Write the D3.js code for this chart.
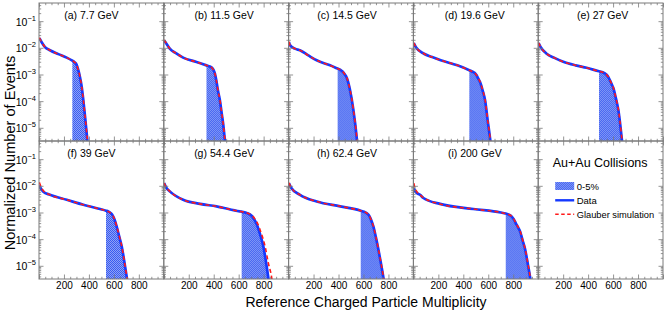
<!DOCTYPE html>
<html><head><meta charset="utf-8">
<script src="https://cdn.jsdelivr.net/npm/d3@7/dist/d3.min.js"></script>
<style>
body{margin:0;background:#fff}
svg{display:block}
text{font-family:"Liberation Sans",Arial,Helvetica,sans-serif}
</style>
</head><body><svg id="c" width="670" height="313"></svg>
<script>
// ---------------- data ----------------
const panelLabels = ["(a) 7.7 GeV","(b) 11.5 GeV","(c) 14.5 GeV","(d) 19.6 GeV","(e) 27 GeV",
                     "(f) 39 GeV","(g) 54.4 GeV","(h) 62.4 GeV","(i) 200 GeV"];
const cutoffs = [267, 342, 393, 448, 487, 537, 624, 578, 740];   // 0-5% lower edge
const multTicks = [200, 400, 600, 800];
const logTickExps = [-1, -2, -3, -4, -5];

const data77 = [[3,0.023],[20,0.0165],[48,0.0107],[88,0.0081],[155,0.0058],[222,0.0043],[267,0.0033],[285,0.0029],[300,0.0024],[315,0.00145],[328,0.00081],[342,0.00035],[355,0.00011],[369,0.000026],[387,0.0000035],[395,0.0000015]];
const glauber77 = [[3,0.024],[20,0.0168],[48,0.0108],[88,0.0081],[155,0.0058],[222,0.0043],[267,0.0033],[285,0.0029],[300,0.0024],[315,0.00147],[328,0.00083],[342,0.00036],[355,0.000115],[369,0.000028],[387,0.0000038],[396,0.0000015]];

const data115 = [[3,0.019],[20,0.0145],[48,0.0093],[100,0.0062],[155,0.0043],[262,0.00295],[342,0.0022],[369,0.002],[385,0.0018],[398,0.0015],[409,0.0011],[420,0.00062],[433,0.00026],[449,0.00011],[462,0.00004],[475,0.0000148],[489,0.0000035],[497,0.0000015]];
const glauber115 = [[3,0.02],[20,0.0147],[48,0.0094],[100,0.0062],[155,0.0043],[262,0.00295],[342,0.0022],[369,0.002],[385,0.0018],[398,0.0015],[409,0.00112],[420,0.00064],[433,0.00027],[449,0.000115],[462,0.000042],[475,0.0000155],[489,0.0000037],[498,0.0000015]];

const data145 = [[3,0.0166],[11,0.0126],[51,0.0093],[91,0.0081],[158,0.0052],[225,0.0034],[332,0.0022],[393,0.00166],[415,0.0015],[432,0.0013],[448,0.00105],[466,0.00075],[492,0.00026],[519,0.000047],[546,0.0000041],[552,0.000002]];
const glauber145 = [[3,0.017],[11,0.0128],[51,0.0093],[91,0.0081],[158,0.0052],[225,0.0034],[332,0.0022],[393,0.00166],[415,0.0015],[432,0.0013],[448,0.00106],[466,0.00077],[492,0.00027],[519,0.00005],[546,0.0000045],[553,0.000002]];

const data196 = [[3,0.015],[20,0.0105],[85,0.006],[150,0.0045],[219,0.0034],[352,0.0022],[448,0.00145],[470,0.0013],[490,0.00115],[505,0.00095],[520,0.0007],[534,0.00052],[555,0.00025],[574,0.00011],[595,0.000019],[614,0.0000041],[622,0.000002]];
const glauber196 = [[3,0.0155],[20,0.0107],[85,0.006],[150,0.0045],[219,0.0034],[352,0.0022],[448,0.00145],[470,0.0013],[490,0.00115],[505,0.00096],[520,0.00071],[534,0.00053],[555,0.00026],[574,0.000115],[595,0.00002],[614,0.0000045],[623,0.000002]];

const data27 = [[3,0.015],[20,0.0105],[68,0.006],[130,0.0042],[201,0.003],[300,0.0022],[388,0.00178],[487,0.00132],[510,0.00124],[530,0.00113],[548,0.00098],[562,0.0008],[575,0.0006],[590,0.00042],[602,0.00031],[622,0.00013],[642,0.000047],[656,0.000015],[669,0.0000041],[677,0.000002]];
const glauber27 = [[3,0.0155],[20,0.0107],[68,0.006],[130,0.0042],[201,0.003],[300,0.0022],[388,0.00178],[487,0.00132],[510,0.00124],[530,0.00113],[548,0.00099],[562,0.00081],[575,0.00061],[590,0.00043],[602,0.00032],[622,0.000135],[642,0.00005],[656,0.000016],[669,0.0000045],[678,0.000002]];

const data39 = [[3,0.0105],[15,0.0078],[35,0.006],[88,0.0046],[222,0.003],[355,0.00195],[489,0.00135],[537,0.00117],[560,0.00106],[578,0.00092],[592,0.00075],[605,0.00055],[622,0.0003],[642,0.00013],[662,0.000055],[682,0.000016],[703,0.0000037],[712,0.000002]];
const glauber39 = [[3,0.0135],[15,0.0095],[35,0.0066],[88,0.0046],[222,0.003],[355,0.00195],[489,0.00135],[537,0.00117],[560,0.00106],[578,0.00092],[592,0.00076],[605,0.00056],[622,0.00031],[642,0.000135],[662,0.000057],[682,0.000017],[703,0.000004],[713,0.000002]];

const data544 = [[3,0.0126],[20,0.0085],[48,0.0062],[155,0.003],[290,0.0021],[422,0.0017],[608,0.0011],[624,0.00107],[660,0.00098],[690,0.00085],[710,0.0007],[728,0.00052],[744,0.00037],[770,0.00016],[797,0.000055],[817,0.000016],[837,0.0000037],[845,0.000002]];
const glauber544 = [[3,0.0128],[20,0.0086],[48,0.0062],[155,0.003],[290,0.0021],[422,0.0017],[608,0.0011],[624,0.00107],[660,0.00099],[690,0.00087],[712,0.00073],[732,0.00055],[750,0.0004],[780,0.00017],[811,0.000055],[837,0.000013],[864,0.0000037],[872,0.000002]];

const data624 = [[3,0.0126],[20,0.0085],[91,0.0046],[225,0.0026],[413,0.0017],[578,0.00117],[605,0.00106],[625,0.00095],[642,0.0008],[656,0.0006],[668,0.00043],[679,0.0003],[699,0.00012],[719,0.000042],[739,0.000013],[759,0.0000037],[767,0.000002]];
const glauber624 = [[3,0.013],[20,0.0087],[91,0.0046],[225,0.0026],[413,0.0017],[578,0.00117],[605,0.00106],[625,0.00096],[642,0.00081],[656,0.00061],[668,0.00044],[679,0.00031],[699,0.000125],[719,0.000044],[739,0.000014],[759,0.000004],[768,0.000002]];

const data200 = [[3,0.0081],[20,0.0058],[53,0.0046],[80,0.0035],[213,0.0021],[480,0.00135],[700,0.001],[740,0.00091],[765,0.00083],[788,0.0007],[805,0.00055],[820,0.0004],[838,0.00028],[854,0.0002],[875,0.00009],[895,0.000042],[915,0.000013],[935,0.0000037],[943,0.000002]];
const glauber200 = [[3,0.0126],[12,0.0085],[30,0.0058],[53,0.0046],[80,0.0036],[213,0.0021],[480,0.00135],[700,0.001],[740,0.00091],[765,0.00083],[788,0.00071],[805,0.00056],[820,0.00041],[838,0.00029],[854,0.00021],[875,0.000095],[895,0.000044],[915,0.000014],[935,0.000004],[944,0.000002]];

const dataSeries = [data77,data115,data145,data196,data27,data39,data544,data624,data200];
const glauberSeries = [glauber77,glauber115,glauber145,glauber196,glauber27,glauber39,glauber544,glauber624,glauber200];

// ---------------- layout ----------------
const L = 39, T = 3, PW = 124.8, PH = 138;
const labelDx = [-10, -2, -4, -1, 2];
const BLUE = "#1438ff", RED = "#ff1a1a", FRAME = "#7a7a7a";
const svg = d3.select("#c");
const x = d3.scaleLinear().domain([0, 1000]).range([0, PW]);
const y = d3.scaleLog().domain([3.2e-6, 0.48]).range([PH, 0]);

const defs = svg.append("defs");
const pat = defs.append("pattern").attr("id","hatch").attr("width",2).attr("height",2).attr("patternUnits","userSpaceOnUse");
pat.append("rect").attr("width",2).attr("height",2).attr("fill","#8ea2f7");
pat.append("rect").attr("width",1).attr("height",1).attr("fill","#3a5cf0");
pat.append("rect").attr("x",1).attr("y",1).attr("width",1).attr("height",1).attr("fill","#3a5cf0");
defs.append("clipPath").attr("id","pclip").append("rect").attr("width",PW).attr("height",PH);

const xMajor = d3.range(0, 1001, 200);
const xMinor = d3.range(0, 1001, 50).filter(v => v % 200 !== 0);
const yMajor = d3.range(-6, 1).map(e => Math.pow(10, e)).filter(v => v >= 3.2e-6 && v <= 0.48);
const yMinor = [];
for (let e = -6; e <= 0; e++) for (let k = 2; k <= 9; k++) { const v = k * Math.pow(10, e); if (v >= 3.2e-6 && v <= 0.48) yMinor.push(v); }

const line = d3.line().x(d => x(d[0])).y(d => y(d[1])).curve(d3.curveMonotoneX);
const area = d3.area().x(d => x(d[0])).y0(PH).y1(d => y(d[1])).curve(d3.curveMonotoneX);

function styleAxis(g) {
  g.select(".domain").remove();
  g.selectAll(".tick line").attr("stroke", FRAME).attr("stroke-width", 0.8);
  g.selectAll(".tick text").attr("fill", "#000").style("font-size", "10px")
    .style("font-family", '"Liberation Sans",Arial,sans-serif');
}

for (let i = 0; i < 10; i++) {
  const col = i % 5, row = Math.floor(i / 5);
  const g = svg.append("g").attr("transform", `translate(${L + col * PW},${T + row * PH})`);

  if (i < 9) {
    const plot = g.append("g").attr("clip-path", "url(#pclip)");
    const d = dataSeries[i];
    const shade = d.filter(p => p[0] >= cutoffs[i]);
    plot.append("path").attr("d", area(shade)).attr("fill", "url(#hatch)");
    plot.append("path").attr("d", line(d)).attr("fill", "none").attr("stroke", BLUE).attr("stroke-width", 2.7);
    plot.append("path").attr("d", line(glauberSeries[i])).attr("fill", "none").attr("stroke", RED)
      .attr("stroke-width", 1.6).attr("stroke-dasharray", "4,3");
    g.append("text").attr("x", PW / 2 + labelDx[col]).attr("y", 15.5).attr("text-anchor", "middle")
      .style("font-size", "10.5px").text(panelLabels[i]);
  }

  // x axes (bottom + top), inward ticks
  g.append("g").attr("transform", `translate(0,${PH})`)
    .call(d3.axisBottom(x).tickValues(xMajor).tickSize(-4.5).tickPadding(3)
      .tickFormat(v => (row === 1 && multTicks.includes(v)) ? v : ""))
    .call(styleAxis);
  g.append("g").attr("transform", `translate(0,${PH})`)
    .call(d3.axisBottom(x).tickValues(xMinor).tickSize(-2.2).tickFormat("")).call(styleAxis);
  g.append("g").call(d3.axisTop(x).tickValues(xMajor).tickSize(-4.5).tickFormat("")).call(styleAxis);
  g.append("g").call(d3.axisTop(x).tickValues(xMinor).tickSize(-2.2).tickFormat("")).call(styleAxis);

  // y axes (left + right), inward ticks
  const yl = g.append("g")
    .call(d3.axisLeft(y).tickValues(yMajor).tickSize(-4.5).tickPadding(3).tickFormat(""))
    .call(styleAxis);
  if (col === 0) {
    yl.selectAll(".tick").each(function (v) {
      const e = Math.round(Math.log10(v));
      if (!logTickExps.includes(e)) return;
      const t = d3.select(this).append("text").attr("x", -3).attr("y", 4)
        .attr("text-anchor", "end").attr("fill", "#000").style("font-size", "10.5px");
      t.append("tspan").text("10");
      t.append("tspan").attr("dy", -5).style("font-size", "7.5px").text("\u2212" + Math.abs(e));
    });
  }
  g.append("g").call(d3.axisLeft(y).tickValues(yMinor).tickSize(-2.2).tickFormat("")).call(styleAxis);
  g.append("g").attr("transform", `translate(${PW},0)`)
    .call(d3.axisRight(y).tickValues(yMajor).tickSize(-4.5).tickFormat("")).call(styleAxis);
  g.append("g").attr("transform", `translate(${PW},0)`)
    .call(d3.axisRight(y).tickValues(yMinor).tickSize(-2.2).tickFormat("")).call(styleAxis);

  g.append("rect").attr("width", PW).attr("height", PH).attr("fill", "none")
    .attr("stroke", FRAME).attr("stroke-width", 1);

  if (i === 9) {
    g.append("text").attr("x", 14.5).attr("y", 25.5).style("font-size", "12.5px").text("Au+Au Collisions");
    g.append("rect").attr("x", 17).attr("y", 41).attr("width", 19).attr("height", 8).attr("fill", "url(#hatch)");
    g.append("text").attr("x", 38.5).attr("y", 48.5).style("font-size", "9.5px").text("0-5%");
    g.append("line").attr("x1", 17).attr("x2", 36).attr("y1", 59.3).attr("y2", 59.3)
      .attr("stroke", BLUE).attr("stroke-width", 2.4);
    g.append("text").attr("x", 38.5).attr("y", 62.8).style("font-size", "9.5px").text("Data");
    g.append("line").attr("x1", 17).attr("x2", 36).attr("y1", 73.3).attr("y2", 73.3)
      .attr("stroke", RED).attr("stroke-width", 1.5).attr("stroke-dasharray", "3.5,2.5");
    g.append("text").attr("x", 38.5).attr("y", 76.8).style("font-size", "9.3px").text("Glauber simulation");
  }
}

// axis titles
svg.append("text").attr("transform", "translate(15,153) rotate(-90)").attr("text-anchor", "middle")
  .style("font-size", "14.6px").text("Normalized Number of Events");
svg.append("text").attr("x", 366).attr("y", 307).attr("text-anchor", "middle")
  .style("font-size", "14px").text("Reference Charged Particle Multiplicity");
</script>
</body></html>
